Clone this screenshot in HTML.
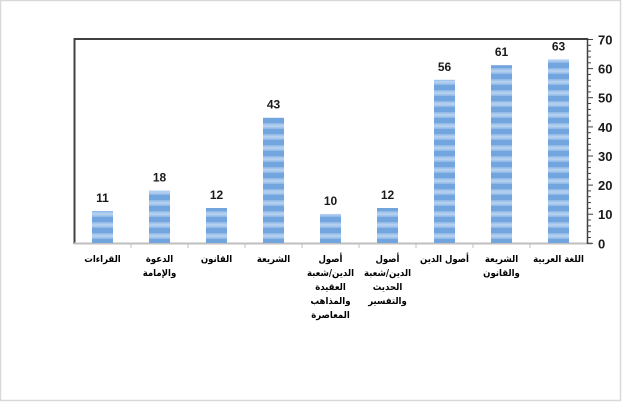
<!DOCTYPE html>
<html><head><meta charset="utf-8">
<style>
html,body{margin:0;padding:0;background:#fff;}
svg{display:block;}
.v{font-family:"Liberation Sans",sans-serif;font-weight:bold;font-size:12px;fill:#1a1a1a;text-anchor:middle;}
.y{font-family:"Liberation Sans",sans-serif;font-weight:bold;font-size:13px;fill:#1a1a1a;}
.c{font-family:"DejaVu Sans Condensed","DejaVu Sans",sans-serif;font-stretch:condensed;font-weight:bold;font-size:9.5px;fill:#000;text-anchor:middle;direction:rtl;unicode-bidi:embed;}
</style></head>
<body>
<svg width="622" height="402" viewBox="0 0 622 402" xmlns="http://www.w3.org/2000/svg">
<defs>
<pattern id="st" patternUnits="userSpaceOnUse" x="0" y="0" width="22" height="11">
<rect width="22" height="11" fill="#72a4dd"/>
<rect y="2" width="22" height="1.5" fill="#93bbe9"/>
<rect y="3.5" width="22" height="3" fill="#b3cfef"/>
<rect y="6.5" width="22" height="1.5" fill="#93bbe9"/>
</pattern>
</defs>
<rect x="0.5" y="0.5" width="620" height="400" fill="#fff" stroke="#d9d9d9" stroke-width="1.5"/>
<line x1="74" y1="39" x2="587" y2="39" stroke="#404040" stroke-width="2"/>
<line x1="74.5" y1="38" x2="74.5" y2="244" stroke="#404040" stroke-width="2"/>
<line x1="74" y1="243.5" x2="592" y2="243.5" stroke="#bfbfbf" stroke-width="2"/>
<g stroke="#bfbfbf" stroke-width="1">
<line x1="131" y1="243" x2="131" y2="248"/>
<line x1="188" y1="243" x2="188" y2="248"/>
<line x1="245" y1="243" x2="245" y2="248"/>
<line x1="302" y1="243" x2="302" y2="248"/>
<line x1="359" y1="243" x2="359" y2="248"/>
<line x1="416" y1="243" x2="416" y2="248"/>
<line x1="473" y1="243" x2="473" y2="248"/>
<line x1="530" y1="243" x2="530" y2="248"/>
</g>
<line x1="587.5" y1="38" x2="587.5" y2="244" stroke="#404040" stroke-width="1.5"/>
<g stroke="#404040" stroke-width="1">
<line x1="587" y1="39.5" x2="593" y2="39.5"/>
<line x1="587" y1="45.3" x2="591" y2="45.3"/>
<line x1="587" y1="51.1" x2="591" y2="51.1"/>
<line x1="587" y1="57.0" x2="591" y2="57.0"/>
<line x1="587" y1="62.8" x2="591" y2="62.8"/>
<line x1="587" y1="68.6" x2="593" y2="68.6"/>
<line x1="587" y1="74.4" x2="591" y2="74.4"/>
<line x1="587" y1="80.3" x2="591" y2="80.3"/>
<line x1="587" y1="86.1" x2="591" y2="86.1"/>
<line x1="587" y1="91.9" x2="591" y2="91.9"/>
<line x1="587" y1="97.7" x2="593" y2="97.7"/>
<line x1="587" y1="103.5" x2="591" y2="103.5"/>
<line x1="587" y1="109.4" x2="591" y2="109.4"/>
<line x1="587" y1="115.2" x2="591" y2="115.2"/>
<line x1="587" y1="121.0" x2="591" y2="121.0"/>
<line x1="587" y1="126.9" x2="593" y2="126.9"/>
<line x1="587" y1="132.7" x2="591" y2="132.7"/>
<line x1="587" y1="138.5" x2="591" y2="138.5"/>
<line x1="587" y1="144.3" x2="591" y2="144.3"/>
<line x1="587" y1="150.1" x2="591" y2="150.1"/>
<line x1="587" y1="156.0" x2="593" y2="156.0"/>
<line x1="587" y1="161.8" x2="591" y2="161.8"/>
<line x1="587" y1="167.6" x2="591" y2="167.6"/>
<line x1="587" y1="173.4" x2="591" y2="173.4"/>
<line x1="587" y1="179.3" x2="591" y2="179.3"/>
<line x1="587" y1="185.1" x2="593" y2="185.1"/>
<line x1="587" y1="190.9" x2="591" y2="190.9"/>
<line x1="587" y1="196.7" x2="591" y2="196.7"/>
<line x1="587" y1="202.6" x2="591" y2="202.6"/>
<line x1="587" y1="208.4" x2="591" y2="208.4"/>
<line x1="587" y1="214.2" x2="593" y2="214.2"/>
<line x1="587" y1="220.0" x2="591" y2="220.0"/>
<line x1="587" y1="225.9" x2="591" y2="225.9"/>
<line x1="587" y1="231.7" x2="591" y2="231.7"/>
<line x1="587" y1="237.5" x2="591" y2="237.5"/>
<line x1="587" y1="243.3" x2="593" y2="243.3"/>
</g>
<g class="y">
<text x="598" y="44.5">70</text>
<text x="598" y="73.6">60</text>
<text x="598" y="102.7">50</text>
<text x="598" y="131.9">40</text>
<text x="598" y="161">30</text>
<text x="598" y="190.1">20</text>
<text x="598" y="219.2">10</text>
<text x="598" y="248.3">0</text>
</g>
<g fill="url(#st)">
<rect x="92" y="211" width="21" height="32"/>
<rect x="149" y="190.5" width="21" height="52.5"/>
<rect x="206" y="208" width="21" height="35"/>
<rect x="263" y="117.7" width="21" height="125.3"/>
<rect x="320" y="213.9" width="21" height="29.1"/>
<rect x="377" y="208" width="21" height="35"/>
<rect x="434" y="79.8" width="21" height="163.2"/>
<rect x="491" y="65.2" width="21" height="177.8"/>
<rect x="548" y="59.4" width="21" height="183.6"/>
</g>
<g class="v">
<text x="102.5" y="202">11</text>
<text x="159.5" y="181.5">18</text>
<text x="216.5" y="199">12</text>
<text x="273.5" y="108.7">43</text>
<text x="330.5" y="204.9">10</text>
<text x="387.5" y="199">12</text>
<text x="444.5" y="70.8">56</text>
<text x="501.5" y="56.2">61</text>
<text x="558.5" y="50.4">63</text>
</g>
<g class="c">
<text x="102.5" y="262">القراءات</text>
<text x="159.5" y="262">الدعوة</text>
<text x="159.5" y="276">والإمامة</text>
<text x="216.5" y="262">القانون</text>
<text x="273.5" y="262">الشريعة</text>
<text x="330.5" y="262">أصول</text>
<text x="330.5" y="276">الدين/شعبة</text>
<text x="330.5" y="290">العقيدة</text>
<text x="330.5" y="304">والمذاهب</text>
<text x="330.5" y="318">المعاصرة</text>
<text x="387.5" y="262">أصول</text>
<text x="387.5" y="276">الدين/شعبة</text>
<text x="387.5" y="290">الحديث</text>
<text x="387.5" y="304">والتفسير</text>
<text x="444.5" y="262">أصول الدين</text>
<text x="501.5" y="262">الشريعة</text>
<text x="501.5" y="276">والقانون</text>
<text x="558.5" y="262">اللغة العربية</text>
</g>
</svg>
</body></html>
